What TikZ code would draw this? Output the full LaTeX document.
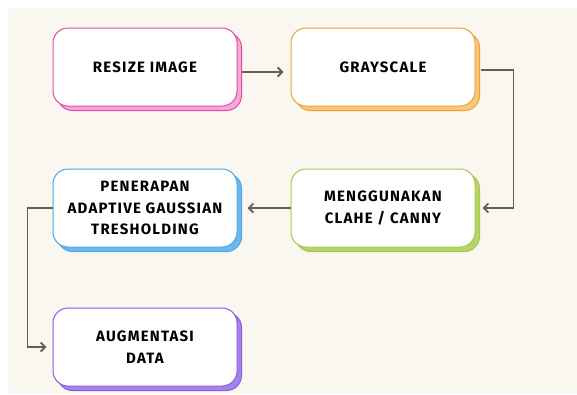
\documentclass[tikz,border=0pt]{standalone}
\usepackage{fontspec}
\setmainfont{Fira Sans}[LetterSpace=8]
\usetikzlibrary{positioning,shadows,arrows.meta}

\definecolor{latar}{HTML}{FAF6F0}
\definecolor{garis}{HTML}{6E5C46}
\definecolor{pinkgaris}{HTML}{D94FA8}
\definecolor{pinkbayang}{HTML}{F8A6D9}
\definecolor{oranyegaris}{HTML}{E8A33D}
\definecolor{oranyebayang}{HTML}{FDC778}
\definecolor{birugaris}{HTML}{4EA8E0}
\definecolor{birubayang}{HTML}{6BB8F2}
\definecolor{hijaugaris}{HTML}{A9C84E}
\definecolor{hijaubayang}{HTML}{B8D466}
\definecolor{ungugaris}{HTML}{8C5FD8}
\definecolor{ungubayang}{HTML}{A683EC}

\begin{document}
\begin{tikzpicture}[x=1pt,y=-1pt]

	\tikzstyle{kotak} = [rectangle, rounded corners=15pt, line width=1pt, fill=white, minimum width=184pt, minimum height=78pt, align=center, text=black, font=\bfseries\fontsize{15}{21.5}\selectfont]
	\tikzstyle{bayang} = [copy shadow={shadow xshift=4.5pt, shadow yshift=-4.5pt, fill=#1bayang, draw=#1garis}, draw=#1garis]
	\tikzstyle{panah} = [-{Straight Barb[length=4.5pt,width=9pt]}, line width=1.8pt, draw=garis]

	\useasboundingbox (0,0) rectangle (577,394);
	\fill[latar] (8,8) rectangle (577,394);

	\node[kotak, bayang=pink] (resize) at (145,67) {RESIZE IMAGE};
	\node[kotak, bayang=oranye, right=53pt of resize] (gray) {GRAYSCALE};
	\node[kotak, bayang=hijau, below=62pt of gray] (canny) {MENGGUNAKAN\\CLAHE / CANNY};
	\node[kotak, bayang=biru, below=62pt of resize] (adaptive) {PENERAPAN\\ADAPTIVE GAUSSIAN\\TRESHOLDING};
	\node[kotak, bayang=ungu, below=60pt of adaptive] (augment) {AUGMENTASI\\DATA};

	\draw[panah] ([xshift=4pt,yshift=-5pt]resize.east) -- ([xshift=-7pt,yshift=-5pt]gray.west);
	\draw[panah] ([xshift=5pt,yshift=-3pt]gray.east) -- ++(33,0) |- ([xshift=7pt]canny.east);
	\draw[panah] (canny.west) -- ([xshift=10pt]adaptive.east);
	\draw[panah] (adaptive.west) -- ++(-25,0) |- ([xshift=-6pt]augment.west);

\end{tikzpicture}
\end{document}
